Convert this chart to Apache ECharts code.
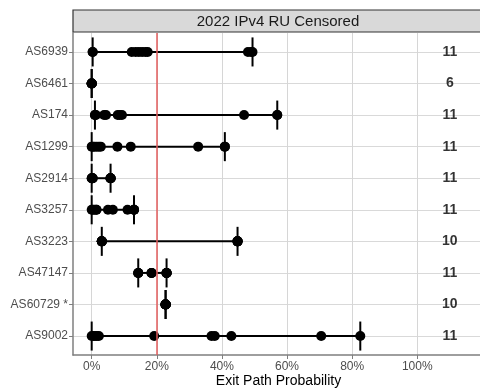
<!DOCTYPE html>
<html>
<head>
<meta charset="utf-8">
<script src="https://cdn.jsdelivr.net/npm/echarts@6/dist/echarts.min.js"></script>
<style>
  html, body { margin: 0; padding: 0; background: #fff; }
  #chart { width: 480px; height: 388px; }
</style>
</head>
<body>
<div id="chart"></div>
<script>
// AS names, top to bottom
const categories = ["AS6939", "AS6461", "AS174", "AS1299", "AS2914", "AS3257", "AS3223", "AS47147", "AS60729 *", "AS9002"];
// number of measurements per AS
const counts = [11, 6, 11, 11, 11, 11, 10, 11, 10, 11];

// exit path probability (%) per AS
const as6939 = [0.3, 0.3, 12.3, 13.5, 14.5, 15.5, 16.5, 17.2, 48.0, 49.0, 49.4];
const as6461 = [0, 0, 0, 0, 0, 0];
const as174 = [1.0, 1.0, 1.3, 3.8, 4.4, 8.0, 8.6, 9.3, 46.8, 57.0, 57.0];
const as1299 = [0, 0.3, 0.8, 1.5, 2.2, 2.8, 7.9, 12.0, 32.7, 40.9, 40.9];
const as2914 = [0, 0, 0.1, 0.2, 0.3, 0.3, 5.8, 5.8, 5.8, 5.8, 5.8];
const as3257 = [0, 0.3, 0.8, 1.4, 1.5, 5.0, 6.5, 11.0, 13.0, 13.0, 13.0];
const as3223 = [3.1, 3.1, 3.1, 3.1, 3.1, 44.8, 44.8, 44.8, 44.8, 44.8];
const as47147 = [14.3, 14.3, 14.3, 18.4, 18.4, 18.4, 23.0, 23.0, 23.0, 23.0, 23.0];
const as60729 = [22.7, 22.7, 22.7, 22.7, 22.7, 22.7, 22.7, 22.7, 22.7, 22.7];
const as9002 = [0, 0.5, 1.0, 1.6, 2.2, 19.2, 36.8, 37.8, 42.9, 70.5, 82.5];

const xTicks = [0, 20, 40, 60, 80, 100];
const threshold = 20;
const countX = 110;

const rows = [as6939, as6461, as174, as1299, as2914, as3257, as3223, as47147, as60729, as9002];
const rowIdx = categories.map((c, i) => i);

const chart = echarts.init(document.getElementById("chart"));

// min/max range per row
const rangeData = rows.map((vals, i) => [Math.min(...vals), Math.max(...vals), i]);
// all points
const pointData = [];
rows.forEach((vals, i) => vals.forEach(v => pointData.push([v, i])));
const countData = counts.map((n, i) => [countX, i, n]);

const font = "Liberation Sans, Arial, sans-serif";

const option = {
  animation: false,
  textStyle: { fontFamily: font },
  graphic: [
    {
      type: "rect",
      shape: { x: 73, y: 10, width: 420, height: 22 },
      style: { fill: "#d9d9d9", stroke: "#333333", lineWidth: 1.2 },
      z: 10
    },
    {
      type: "text",
      x: 278,
      y: 21.5,
      style: {
        text: "2022 IPv4 RU Censored",
        fontFamily: font,
        fontSize: 15,
        fill: "#1a1a1a",
        align: "center",
        verticalAlign: "middle"
      },
      z: 11
    }
  ],
  grid: { left: 73, right: -4, top: 33, bottom: 33, outerBoundsMode: "none", containLabel: false },
  xAxis: {
    type: "value",
    min: -5.74,
    max: 120.5,
    axisLine: { show: true, onZero: false, lineStyle: { color: "#7f7f7f", width: 1.5 } },
    axisTick: { show: true, length: 4, customValues: xTicks, lineStyle: { color: "#7f7f7f" } },
    axisLabel: {
      customValues: xTicks,
      formatter: v => v + "%",
      color: "#4d4d4d",
      fontSize: 12,
      margin: 6
    },
    splitLine: { show: true, lineStyle: { color: "#d6d6d6", width: 1 } },
    name: "Exit Path Probability",
    nameLocation: "middle",
    nameGap: 19,
    nameMoveOverlap: false,
    nameTextStyle: { color: "#000", fontSize: 14 }
  },
  yAxis: {
    type: "value",
    min: -0.6,
    max: 9.6,
    inverse: true,
    axisLine: { show: true, onZero: false, lineStyle: { color: "#7f7f7f", width: 1.5 } },
    axisTick: { show: true, length: 4, customValues: rowIdx, lineStyle: { color: "#7f7f7f" } },
    axisLabel: {
      customValues: rowIdx,
      formatter: v => categories[Math.round(v)] || "",
      color: "#4d4d4d",
      fontSize: 12,
      margin: 5
    },
    splitLine: { show: true, lineStyle: { color: "#d9d9d9", width: 1 } }
  },
  series: [
    {
      type: "custom",
      data: rangeData,
      z: 3,
      renderItem: function (params, api) {
        const lo = api.coord([api.value(0), api.value(2)]);
        const hi = api.coord([api.value(1), api.value(2)]);
        const h = api.size([0, 0.46])[1];
        const st = { stroke: "#000", lineWidth: 2 };
        return {
          type: "group",
          children: [
            { type: "line", shape: { x1: lo[0], y1: lo[1], x2: hi[0], y2: hi[1] }, style: st },
            { type: "line", shape: { x1: lo[0], y1: lo[1] - h, x2: lo[0], y2: lo[1] + h }, style: st },
            { type: "line", shape: { x1: hi[0], y1: hi[1] - h, x2: hi[0], y2: hi[1] + h }, style: st }
          ]
        };
      },
      markLine: {
        silent: true,
        symbol: "none",
        label: { show: false },
        lineStyle: { color: "#e35d5d", width: 1.5, type: "solid" },
        data: [{ xAxis: threshold }]
      }
    },
    {
      type: "scatter",
      data: pointData,
      symbol: "circle",
      symbolSize: 10,
      itemStyle: { color: "#000", opacity: 1 },
      z: 4
    },
    {
      type: "scatter",
      data: countData,
      symbolSize: 0,
      z: 5,
      label: {
        show: true,
        position: "inside",
        formatter: p => String(p.value[2]),
        color: "#000",
        fontWeight: "bold",
        fontSize: 14
      }
    }
  ]
};

chart.setOption(option);
</script>
</body>
</html>
